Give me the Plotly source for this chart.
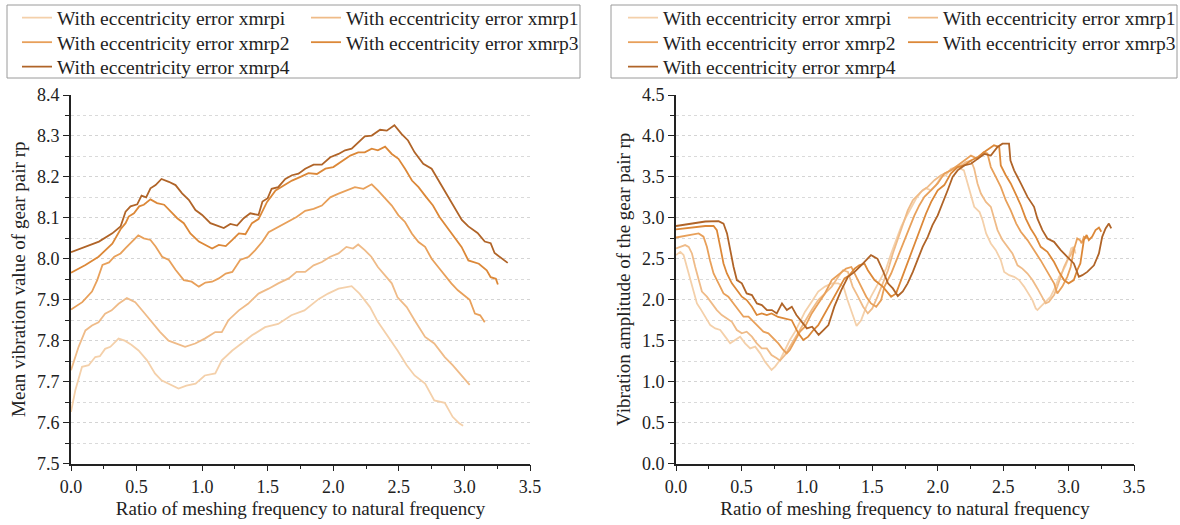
import plotly.graph_objects as go

W, H = 1180, 525

names = ["With eccentricity error xmrpi", "With eccentricity error xmrp1",
         "With eccentricity error xmrp2", "With eccentricity error xmrp3",
         "With eccentricity error xmrp4"]
colors = ["#f4d0aa", "#efbb88", "#e8a05a", "#dc8838", "#b06428"]

x_ticks = [0.0, 0.5, 1.0, 1.5, 2.0, 2.5, 3.0, 3.5]

# ---------- left panel: mean vibration value ----------
L_x_i = [0.00, 0.033, 0.084, 0.135, 0.185, 0.22, 0.26, 0.30, 0.363, 0.41, 0.46, 0.515, 0.58, 0.64, 0.69, 0.74, 0.82, 0.88, 0.95, 1.02, 1.10, 1.15, 1.23, 1.30, 1.38, 1.48, 1.58, 1.68, 1.78, 1.89, 1.96, 2.04, 2.14, 2.20, 2.28, 2.34, 2.42, 2.49, 2.56, 2.62, 2.70, 2.77, 2.85, 2.91, 2.96, 2.99]
L_y_i = [7.626, 7.679, 7.736, 7.740, 7.760, 7.762, 7.780, 7.785, 7.805, 7.800, 7.790, 7.776, 7.752, 7.720, 7.703, 7.695, 7.683, 7.690, 7.695, 7.715, 7.720, 7.752, 7.776, 7.793, 7.813, 7.833, 7.841, 7.862, 7.874, 7.902, 7.915, 7.927, 7.933, 7.915, 7.882, 7.846, 7.809, 7.776, 7.740, 7.715, 7.695, 7.654, 7.648, 7.614, 7.598, 7.592]

L_x_1 = [0, 0.058, 0.11, 0.16, 0.21, 0.26, 0.31, 0.363, 0.426, 0.49, 0.553, 0.617, 0.68, 0.744, 0.807, 0.87, 0.947, 1.02, 1.10, 1.15, 1.20, 1.28, 1.35, 1.43, 1.507, 1.58, 1.66, 1.72, 1.786, 1.85, 1.913, 1.977, 2.04, 2.10, 2.15, 2.19, 2.24, 2.29, 2.34, 2.395, 2.446, 2.49, 2.56, 2.62, 2.70, 2.77, 2.85, 2.91, 2.98, 3.04]
L_y_1 = [7.728, 7.785, 7.825, 7.837, 7.845, 7.866, 7.874, 7.890, 7.904, 7.894, 7.870, 7.845, 7.821, 7.800, 7.793, 7.785, 7.793, 7.805, 7.821, 7.821, 7.850, 7.874, 7.890, 7.915, 7.927, 7.940, 7.952, 7.968, 7.968, 7.984, 7.992, 8.005, 8.013, 8.029, 8.025, 8.035, 8.021, 8.005, 7.980, 7.960, 7.940, 7.906, 7.882, 7.850, 7.809, 7.793, 7.760, 7.740, 7.715, 7.692]

L_x_2 = [0, 0.086, 0.16, 0.20, 0.24, 0.29, 0.33, 0.378, 0.416, 0.467, 0.513, 0.555, 0.606, 0.645, 0.695, 0.746, 0.797, 0.86, 0.92, 0.975, 1.025, 1.076, 1.127, 1.18, 1.23, 1.29, 1.355, 1.405, 1.46, 1.507, 1.58, 1.66, 1.72, 1.786, 1.85, 1.913, 1.977, 2.04, 2.10, 2.165, 2.23, 2.293, 2.34, 2.395, 2.446, 2.497, 2.547, 2.60, 2.65, 2.70, 2.75, 2.80, 2.85, 2.90, 2.95, 3.04, 3.08, 3.12, 3.155]
L_y_2 = [7.876, 7.894, 7.920, 7.948, 7.985, 7.991, 8.005, 8.013, 8.026, 8.042, 8.057, 8.050, 8.046, 8.030, 8.005, 7.997, 7.973, 7.948, 7.944, 7.932, 7.942, 7.944, 7.952, 7.964, 7.968, 7.997, 8.005, 8.021, 8.042, 8.065, 8.078, 8.092, 8.102, 8.117, 8.122, 8.130, 8.150, 8.159, 8.167, 8.175, 8.171, 8.182, 8.167, 8.147, 8.130, 8.106, 8.090, 8.061, 8.041, 8.029, 8.000, 7.980, 7.960, 7.940, 7.923, 7.900, 7.866, 7.862, 7.845]

L_x_3 = [0, 0.11, 0.21, 0.315, 0.378, 0.416, 0.44, 0.48, 0.52, 0.555, 0.606, 0.656, 0.71, 0.76, 0.81, 0.86, 0.91, 0.975, 1.025, 1.076, 1.127, 1.18, 1.23, 1.28, 1.33, 1.38, 1.43, 1.495, 1.56, 1.62, 1.685, 1.75, 1.81, 1.875, 1.94, 2.0, 2.065, 2.13, 2.19, 2.24, 2.293, 2.34, 2.395, 2.446, 2.497, 2.547, 2.60, 2.65, 2.71, 2.76, 2.81, 2.864, 2.927, 2.978, 3.03, 3.11, 3.17, 3.20, 3.24, 3.255]
L_y_3 = [7.966, 7.985, 8.005, 8.037, 8.072, 8.087, 8.103, 8.111, 8.128, 8.132, 8.145, 8.136, 8.132, 8.115, 8.099, 8.087, 8.062, 8.042, 8.034, 8.025, 8.034, 8.031, 8.046, 8.062, 8.060, 8.087, 8.097, 8.139, 8.167, 8.179, 8.191, 8.200, 8.209, 8.207, 8.220, 8.224, 8.239, 8.252, 8.260, 8.260, 8.269, 8.265, 8.274, 8.256, 8.244, 8.220, 8.191, 8.175, 8.150, 8.130, 8.102, 8.078, 8.053, 8.029, 7.996, 7.988, 7.972, 7.955, 7.951, 7.937]

L_x_4 = [0, 0.11, 0.213, 0.315, 0.378, 0.416, 0.454, 0.505, 0.538, 0.573, 0.606, 0.645, 0.69, 0.746, 0.797, 0.847, 0.898, 0.949, 1.0, 1.063, 1.114, 1.165, 1.215, 1.266, 1.317, 1.367, 1.43, 1.46, 1.50, 1.53, 1.58, 1.634, 1.685, 1.735, 1.786, 1.85, 1.913, 1.977, 2.04, 2.09, 2.14, 2.19, 2.24, 2.293, 2.357, 2.408, 2.466, 2.52, 2.57, 2.62, 2.686, 2.75, 2.81, 2.864, 2.93, 2.98, 3.03, 3.10, 3.155, 3.20, 3.23, 3.285, 3.33]
L_y_4 = [8.016, 8.030, 8.042, 8.062, 8.079, 8.115, 8.128, 8.133, 8.154, 8.150, 8.172, 8.180, 8.195, 8.188, 8.180, 8.160, 8.144, 8.119, 8.107, 8.087, 8.080, 8.075, 8.085, 8.081, 8.099, 8.111, 8.107, 8.140, 8.148, 8.171, 8.175, 8.195, 8.204, 8.208, 8.220, 8.230, 8.230, 8.248, 8.256, 8.265, 8.269, 8.285, 8.299, 8.301, 8.315, 8.313, 8.326, 8.305, 8.289, 8.260, 8.232, 8.220, 8.187, 8.159, 8.120, 8.095, 8.079, 8.063, 8.042, 8.038, 8.014, 8.002, 7.990]

# ---------- right panel: vibration amplitude ----------
R_x_i = [0, 0.033, 0.058, 0.084, 0.11, 0.135, 0.16, 0.185, 0.224, 0.262, 0.30, 0.338, 0.376, 0.414, 0.452, 0.49, 0.528, 0.567, 0.605, 0.643, 0.68, 0.706, 0.73, 0.757, 0.795, 0.833, 0.87, 0.91, 0.948, 0.986, 1.037, 1.087, 1.138, 1.19, 1.24, 1.28, 1.31, 1.35, 1.38, 1.415, 1.454, 1.49, 1.53, 1.57, 1.606, 1.644, 1.682, 1.72, 1.758, 1.80, 1.835, 1.873, 1.91, 1.95, 1.987, 2.025, 2.063, 2.10, 2.152, 2.20, 2.228, 2.254, 2.279, 2.32, 2.343, 2.37, 2.406, 2.444, 2.482, 2.508, 2.546, 2.584, 2.622, 2.66, 2.698, 2.724, 2.749, 2.762, 2.787, 2.825, 2.863, 2.90, 2.927, 2.952, 2.978, 3.003, 3.02, 3.036, 3.054]
R_y_i = [2.545, 2.585, 2.545, 2.40, 2.24, 2.10, 1.955, 1.894, 1.793, 1.69, 1.65, 1.63, 1.549, 1.467, 1.508, 1.549, 1.467, 1.406, 1.427, 1.345, 1.244, 1.183, 1.142, 1.183, 1.264, 1.386, 1.508, 1.61, 1.73, 1.854, 1.976, 2.10, 2.16, 2.20, 2.20, 2.16, 2.00, 1.80, 1.68, 1.75, 1.915, 2.037, 2.16, 2.28, 2.38, 2.565, 2.728, 2.89, 3.01, 3.134, 3.236, 3.317, 3.36, 3.337, 3.40, 3.50, 3.52, 3.60, 3.62, 3.58, 3.42, 3.30, 3.134, 3.07, 2.97, 2.81, 2.687, 2.606, 2.484, 2.34, 2.30, 2.28, 2.24, 2.16, 2.057, 1.996, 1.894, 1.874, 1.915, 1.976, 2.037, 2.16, 2.28, 2.34, 2.42, 2.524, 2.626, 2.64, 2.565]

R_x_1 = [0, 0.07, 0.097, 0.122, 0.147, 0.173, 0.198, 0.236, 0.274, 0.312, 0.35, 0.39, 0.427, 0.465, 0.503, 0.54, 0.58, 0.617, 0.655, 0.694, 0.73, 0.77, 0.795, 0.833, 0.87, 0.91, 0.948, 0.986, 1.037, 1.087, 1.138, 1.19, 1.24, 1.276, 1.314, 1.35, 1.39, 1.43, 1.466, 1.50, 1.54, 1.58, 1.62, 1.657, 1.695, 1.733, 1.771, 1.81, 1.847, 1.885, 1.924, 1.975, 2.025, 2.076, 2.127, 2.178, 2.216, 2.254, 2.279, 2.304, 2.33, 2.368, 2.406, 2.43, 2.457, 2.495, 2.533, 2.571, 2.61, 2.647, 2.686, 2.724, 2.762, 2.80, 2.825, 2.85, 2.889, 2.914, 2.94, 2.965, 2.99, 3.016, 3.036, 3.05]
R_y_1 = [2.626, 2.667, 2.646, 2.565, 2.40, 2.24, 2.10, 2.037, 1.955, 1.874, 1.813, 1.77, 1.73, 1.63, 1.59, 1.61, 1.549, 1.467, 1.406, 1.406, 1.325, 1.285, 1.256, 1.325, 1.427, 1.528, 1.63, 1.75, 1.874, 1.996, 2.077, 2.16, 2.28, 2.36, 2.34, 2.16, 2.04, 1.915, 1.833, 1.894, 2.037, 2.20, 2.36, 2.565, 2.748, 2.93, 3.09, 3.215, 3.276, 3.337, 3.378, 3.46, 3.52, 3.56, 3.60, 3.64, 3.68, 3.70, 3.60, 3.42, 3.297, 3.195, 3.134, 3.01, 2.85, 2.728, 2.646, 2.565, 2.42, 2.38, 2.32, 2.24, 2.138, 2.037, 1.955, 1.976, 2.057, 2.16, 2.28, 2.40, 2.484, 2.545, 2.626, 2.60]

R_x_2 = [0, 0.097, 0.173, 0.21, 0.236, 0.26, 0.287, 0.325, 0.363, 0.40, 0.44, 0.478, 0.516, 0.554, 0.592, 0.63, 0.668, 0.706, 0.744, 0.782, 0.82, 0.846, 0.87, 0.91, 0.948, 0.986, 1.037, 1.087, 1.138, 1.19, 1.263, 1.30, 1.34, 1.377, 1.415, 1.454, 1.49, 1.53, 1.568, 1.593, 1.644, 1.695, 1.746, 1.784, 1.822, 1.86, 1.898, 1.95, 2.0, 2.05, 2.10, 2.152, 2.203, 2.254, 2.305, 2.35, 2.38, 2.406, 2.444, 2.482, 2.52, 2.558, 2.60, 2.635, 2.686, 2.736, 2.787, 2.838, 2.889, 2.914, 2.952, 2.99, 3.016, 3.04, 3.066, 3.087, 3.10, 3.117, 3.14]
R_y_2 = [2.76, 2.79, 2.81, 2.77, 2.646, 2.48, 2.32, 2.20, 2.077, 2.037, 1.955, 1.874, 1.793, 1.793, 1.73, 1.67, 1.61, 1.59, 1.528, 1.467, 1.386, 1.345, 1.386, 1.508, 1.61, 1.67, 1.833, 1.955, 2.077, 2.24, 2.34, 2.38, 2.40, 2.28, 2.16, 2.037, 1.955, 1.915, 1.996, 2.16, 2.32, 2.524, 2.728, 2.89, 3.03, 3.154, 3.256, 3.337, 3.42, 3.54, 3.58, 3.64, 3.70, 3.76, 3.72, 3.80, 3.785, 3.62, 3.50, 3.378, 3.215, 3.09, 2.93, 2.83, 2.728, 2.606, 2.48, 2.34, 2.20, 2.077, 2.16, 2.28, 2.40, 2.606, 2.748, 2.728, 2.69, 2.768, 2.75]

R_x_3 = [0, 0.122, 0.224, 0.287, 0.312, 0.338, 0.363, 0.389, 0.427, 0.465, 0.503, 0.54, 0.58, 0.617, 0.655, 0.694, 0.73, 0.78, 0.833, 0.884, 0.935, 0.973, 1.01, 1.05, 1.087, 1.138, 1.19, 1.25, 1.288, 1.326, 1.365, 1.40, 1.44, 1.466, 1.517, 1.58, 1.644, 1.682, 1.72, 1.758, 1.80, 1.835, 1.873, 1.91, 1.95, 2.0, 2.05, 2.10, 2.152, 2.203, 2.254, 2.305, 2.356, 2.43, 2.47, 2.482, 2.52, 2.558, 2.60, 2.635, 2.673, 2.71, 2.75, 2.787, 2.838, 2.889, 2.927, 2.965, 3.0, 3.04, 3.066, 3.09, 3.117, 3.138, 3.155, 3.18, 3.206, 3.232, 3.25]
R_y_3 = [2.858, 2.88, 2.90, 2.90, 2.85, 2.646, 2.443, 2.32, 2.20, 2.118, 2.037, 1.996, 1.915, 1.813, 1.833, 1.813, 1.833, 1.79, 1.77, 1.75, 1.59, 1.508, 1.549, 1.63, 1.69, 1.833, 1.996, 2.16, 2.26, 2.30, 2.38, 2.42, 2.44, 2.36, 2.24, 2.16, 2.037, 2.077, 2.24, 2.38, 2.565, 2.728, 2.89, 3.05, 3.195, 3.337, 3.40, 3.54, 3.62, 3.64, 3.70, 3.74, 3.805, 3.886, 3.866, 3.64, 3.52, 3.42, 3.276, 3.154, 2.99, 2.87, 2.768, 2.646, 2.585, 2.46, 2.34, 2.24, 2.20, 2.24, 2.36, 2.443, 2.728, 2.79, 2.728, 2.77, 2.85, 2.88, 2.83]

R_x_4 = [0, 0.122, 0.224, 0.325, 0.363, 0.39, 0.414, 0.44, 0.465, 0.503, 0.54, 0.58, 0.618, 0.656, 0.695, 0.733, 0.77, 0.81, 0.847, 0.885, 0.92, 0.96, 1.0, 1.04, 1.09, 1.127, 1.165, 1.21, 1.263, 1.314, 1.365, 1.415, 1.454, 1.49, 1.517, 1.54, 1.58, 1.62, 1.657, 1.695, 1.733, 1.77, 1.81, 1.847, 1.885, 1.924, 1.96, 2.0, 2.038, 2.076, 2.114, 2.152, 2.203, 2.254, 2.305, 2.356, 2.406, 2.457, 2.495, 2.545, 2.556, 2.584, 2.635, 2.686, 2.736, 2.762, 2.80, 2.838, 2.889, 2.94, 2.99, 3.04, 3.079, 3.105, 3.143, 3.194, 3.232, 3.257, 3.283, 3.308, 3.326]
R_y_4 = [2.90, 2.93, 2.955, 2.96, 2.93, 2.81, 2.606, 2.40, 2.24, 2.20, 2.077, 2.057, 1.955, 1.935, 1.874, 1.874, 1.833, 1.955, 1.874, 1.915, 1.813, 1.73, 1.65, 1.67, 1.57, 1.63, 1.69, 1.915, 2.118, 2.28, 2.34, 2.42, 2.48, 2.545, 2.52, 2.50, 2.36, 2.20, 2.138, 2.045, 2.10, 2.20, 2.34, 2.48, 2.646, 2.768, 2.91, 3.03, 3.175, 3.337, 3.50, 3.58, 3.64, 3.66, 3.72, 3.78, 3.76, 3.866, 3.906, 3.906, 3.70, 3.58, 3.42, 3.256, 3.134, 2.99, 2.85, 2.748, 2.707, 2.606, 2.524, 2.443, 2.28, 2.30, 2.34, 2.42, 2.565, 2.768, 2.87, 2.93, 2.87]

left_series = [(L_x_i, L_y_i), (L_x_1, L_y_1), (L_x_2, L_y_2), (L_x_3, L_y_3), (L_x_4, L_y_4)]
right_series = [(R_x_i, R_y_i), (R_x_1, R_y_1), (R_x_2, R_y_2), (R_x_3, R_y_3), (R_x_4, R_y_4)]

FONT = "Liberation Serif"
INK = "#222222"

def px(x):
    return x / W

def py(y):
    return 1 - y / H

fig = go.Figure()

# one legend per entry so the 2-column grid of the reference is reproduced
leg_ids = ["legend"] + ["legend%d" % i for i in range(2, 11)]

for k, (xs, ys) in enumerate(left_series):
    fig.add_trace(go.Scatter(x=xs, y=ys, mode="lines", name=names[k],
                             line=dict(color=colors[k], width=1.8),
                             xaxis="x", yaxis="y", legend=leg_ids[k]))
for k, (xs, ys) in enumerate(right_series):
    fig.add_trace(go.Scatter(x=xs, y=ys, mode="lines", name=names[k],
                             line=dict(color=colors[k], width=1.8),
                             xaxis="x2", yaxis="y2", legend=leg_ids[5 + k]))

ydom = [py(463.5), py(95)]

def xaxis_cfg(dom, anchor):
    return dict(domain=dom, anchor=anchor, range=[0, 3.5], tickvals=x_ticks, tickformat=".1f",
                showline=True, linecolor=INK, linewidth=1.6, automargin=False,
                ticks="outside", ticklen=6, tickwidth=1.3, tickcolor=INK,
                minor=dict(dtick=0.25, tick0=0, ticks="outside", ticklen=4,
                           tickwidth=1.2, tickcolor=INK, showgrid=False),
                showgrid=False, zeroline=False,
                tickfont=dict(family=FONT, size=18, color=INK),
                title=dict(text="Ratio of meshing frequency to natural frequency",
                           font=dict(family=FONT, size=19, color=INK), standoff=6))

def yaxis_cfg(anchor, rng, dt, mdt, title):
    return dict(domain=ydom, anchor=anchor, range=rng, dtick=dt, tick0=rng[0],
                tickformat=".1f", automargin=False,
                showline=True, linecolor=INK, linewidth=1.6,
                ticks="outside", ticklen=6, tickwidth=1.3, tickcolor=INK,
                showgrid=True, gridcolor="#d4d4d4", griddash="dot", gridwidth=1,
                minor=dict(dtick=mdt, tick0=rng[0], ticks="outside", ticklen=4,
                           tickwidth=1.2, tickcolor=INK, showgrid=True,
                           gridcolor="#dadada", griddash="dot", gridwidth=1),
                zeroline=False,
                tickfont=dict(family=FONT, size=18, color=INK),
                title=dict(text=title, font=dict(family=FONT, size=19, color=INK), standoff=6))

leg_common = dict(orientation="h", bgcolor="rgba(0,0,0,0)", borderwidth=0,
                  font=dict(family=FONT, size=19.5, color=INK),
                  xanchor="left", yanchor="middle")

rows_y = [18, 42.5, 67]
# (text start x, row) for each legend entry; legend box x = text x - 41
entry_pos = [(58, 0), (347, 0), (58, 1), (347, 1), (58, 2),
             (664, 0), (944, 0), (664, 1), (944, 1), (664, 2)]

layout = dict(
    width=W, height=H, margin=dict(l=0, r=0, t=0, b=0, autoexpand=False),
    paper_bgcolor="white", plot_bgcolor="white",
    xaxis=xaxis_cfg([px(71), px(530)], "y"),
    yaxis=yaxis_cfg("x", [7.5, 8.4], 0.1, 0.05, "Mean vibration value of gear pair rp"),
    xaxis2=xaxis_cfg([px(676), px(1134)], "y2"),
    yaxis2=yaxis_cfg("x2", [0, 4.5], 0.5, 0.25, "Vibration amplitude of the gear pair rp"),
    showlegend=True,
    shapes=[
        dict(type="rect", xref="paper", yref="paper", x0=px(7), x1=px(580), y0=py(5), y1=py(78),
             line=dict(color="#9a9a9a", width=1), fillcolor="rgba(0,0,0,0)"),
        dict(type="rect", xref="paper", yref="paper", x0=px(611), x1=px(1177), y0=py(5), y1=py(78),
             line=dict(color="#9a9a9a", width=1), fillcolor="rgba(0,0,0,0)"),
    ],
)
for lid, (tx, r) in zip(leg_ids, entry_pos):
    layout[lid] = dict(leg_common, x=px(tx - 41), y=py(rows_y[r]))

fig.update_layout(**layout)
# remove the browser's default 8px page margin so the figure fills the window exactly
fig.write_html("out.html", config={"displayModeBar": False},
               post_script="document.body.style.margin='0';document.body.style.padding='0';")
